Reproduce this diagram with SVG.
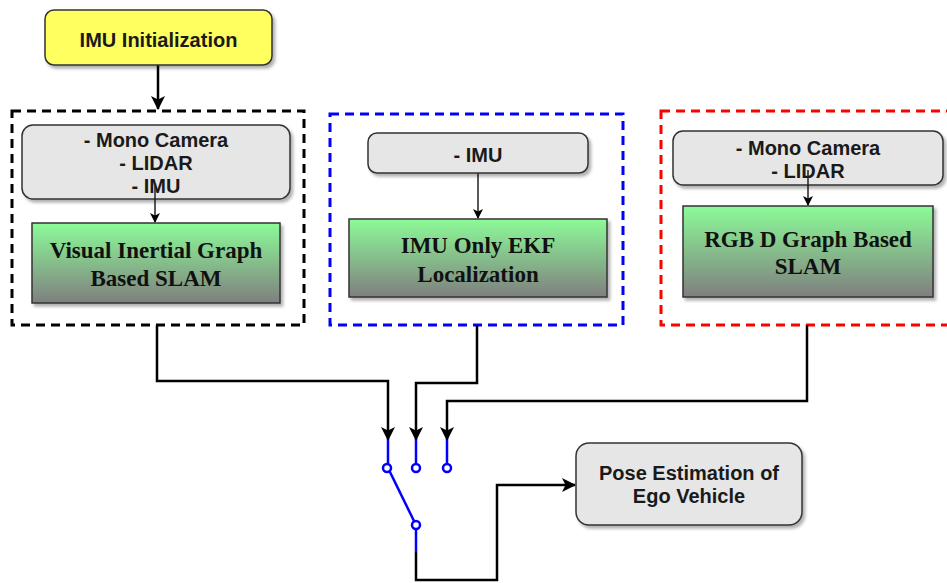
<svg xmlns="http://www.w3.org/2000/svg" width="947" height="583" viewBox="0 0 947 583">
  <defs>
    <linearGradient id="greenFill" x1="0" y1="0" x2="0" y2="1">
      <stop offset="0" stop-color="#8cfb98"/>
      <stop offset="1" stop-color="#7f7f7f"/>
    </linearGradient>
    <filter id="shadow" x="-10%" y="-10%" width="125%" height="135%">
      <feDropShadow dx="2.5" dy="3" stdDeviation="1.5" flood-color="#000" flood-opacity="0.3"/>
    </filter>
    <marker id="arrow" viewBox="0 0 14 14" refX="13" refY="7" markerWidth="14" markerHeight="14" markerUnits="userSpaceOnUse" orient="auto">
      <path d="M0,0 L14,7 L0,14 L3.5,7 Z" fill="#000"/>
    </marker>
    <marker id="arrowSmall" viewBox="0 0 10 10" refX="9" refY="5" markerWidth="10" markerHeight="10" markerUnits="userSpaceOnUse" orient="auto">
      <path d="M0,0 L10,5 L0,10 L2.5,5 Z" fill="#000"/>
    </marker>
    <style>
      .sans { font-family: "Liberation Sans", Arial, sans-serif; font-weight: bold; font-size: 20px; fill: #1a1a1a; text-anchor: middle; }
      .serif { font-family: "Liberation Serif", "Times New Roman", serif; font-weight: bold; font-size: 23px; fill: #111; text-anchor: middle; }
      .gray { fill: #e6e6e6; stroke: #333; stroke-width: 1.5; }
      .green { fill: url(#greenFill); stroke: #333; stroke-width: 1.5; }
      .frame { fill: none; stroke-width: 3; stroke-dasharray: 9 6; }
      .wire { fill: none; stroke: #000; stroke-width: 2.5; }
      .thin { fill: none; stroke: #222; stroke-width: 1.5; }
      .switch { fill: none; stroke: #0000ff; stroke-width: 2.5; }
      .pin { fill: #fff; stroke: #0000ff; stroke-width: 2.5; }
    </style>
  </defs>

  <rect width="947" height="583" fill="#fff"/>

  <!-- dashed group frames -->
  <g id="frame-visual-inertial">
    <rect class="frame" x="12" y="111" width="292" height="214" stroke="#000"/>
  </g>
  <g id="frame-imu-ekf">
    <rect class="frame" x="330" y="114" width="293" height="211" stroke="#0000ff"/>
  </g>
  <g id="frame-rgbd">
    <rect class="frame" x="661" y="111" width="300" height="214" stroke="#ff0000"/>
  </g>

  <!-- connectors -->
  <g id="connectors">
    <line class="wire" x1="158" y1="65" x2="158" y2="109" marker-end="url(#arrow)"/>
    <line class="thin" x1="155" y1="190" x2="155" y2="222" marker-end="url(#arrowSmall)"/>
    <line class="thin" x1="478" y1="173" x2="478" y2="218" marker-end="url(#arrowSmall)"/>
    <line class="thin" x1="808" y1="175" x2="808" y2="205" marker-end="url(#arrowSmall)"/>

    <polyline class="wire" points="157,325 157,381 388,381 388,440" marker-end="url(#arrow)"/>
    <polyline class="wire" points="477,325 477,383 416,383 416,440" marker-end="url(#arrow)"/>
    <polyline class="wire" points="807,325 807,401 447,401 447,440" marker-end="url(#arrow)"/>

    <polyline class="wire" points="416,552 416,580 497,580 497,485 575,485" marker-end="url(#arrow)"/>

    <!-- selector switch -->
    <line class="switch" x1="388" y1="440" x2="388" y2="464"/>
    <line class="switch" x1="416" y1="440" x2="416" y2="464"/>
    <line class="switch" x1="447" y1="440" x2="447" y2="464"/>
    <line class="switch" x1="389" y1="470" x2="414" y2="521"/>
    <line class="switch" x1="416" y1="529" x2="416" y2="552"/>
    <circle class="pin" cx="387" cy="468" r="4"/>
    <circle class="pin" cx="416" cy="468" r="4"/>
    <circle class="pin" cx="447" cy="468" r="4"/>
    <circle class="pin" cx="416" cy="525" r="4"/>
  </g>

  <g id="imu-init">
    <rect x="45" y="10" width="227" height="55" rx="9" fill="#ffff5e" stroke="#333" stroke-width="1.5" filter="url(#shadow)"/>
    <text class="sans" x="158.5" y="47">IMU Initialization</text>
  </g>

  <g id="sensors-visual-inertial">
    <rect class="gray" x="22" y="125" width="268" height="74" rx="11" filter="url(#shadow)"/>
    <text class="sans" x="156" y="147">- Mono Camera</text>
    <text class="sans" x="156" y="170">- LIDAR</text>
    <text class="sans" x="156" y="193">- IMU</text>
  </g>
  <line class="thin" x1="155" y1="186" x2="155" y2="200"/>

  <g id="visual-inertial-slam">
    <rect class="green" x="32" y="223" width="248" height="80" filter="url(#shadow)"/>
    <text class="serif" x="156" y="258">Visual Inertial Graph</text>
    <text class="serif" x="156" y="286">Based SLAM</text>
  </g>

  <g id="sensors-imu">
    <rect class="gray" x="368" y="133" width="220" height="40" rx="9" filter="url(#shadow)"/>
    <text class="sans" x="478" y="162">- IMU</text>
  </g>

  <g id="imu-ekf">
    <rect class="green" x="349" y="219" width="258" height="78" filter="url(#shadow)"/>
    <text class="serif" x="478" y="253">IMU Only EKF</text>
    <text class="serif" x="478" y="282">Localization</text>
  </g>

  <g id="sensors-rgbd">
    <rect class="gray" x="673" y="131" width="270" height="54" rx="10" filter="url(#shadow)"/>
    <text class="sans" x="808" y="155">- Mono Camera</text>
    <text class="sans" x="808" y="178">- LIDAR</text>
  </g>
  <line class="thin" x1="808" y1="170" x2="808" y2="186"/>

  <g id="rgbd-slam">
    <rect class="green" x="683" y="206" width="250" height="91" filter="url(#shadow)"/>
    <text class="serif" x="808" y="247">RGB D Graph Based</text>
    <text class="serif" x="808" y="274">SLAM</text>
  </g>

  <g id="pose-estimation">
    <rect class="gray" x="576" y="443" width="226" height="82" rx="13" filter="url(#shadow)"/>
    <text class="sans" x="689" y="480">Pose Estimation of</text>
    <text class="sans" x="689" y="503">Ego Vehicle</text>
  </g>
</svg>
